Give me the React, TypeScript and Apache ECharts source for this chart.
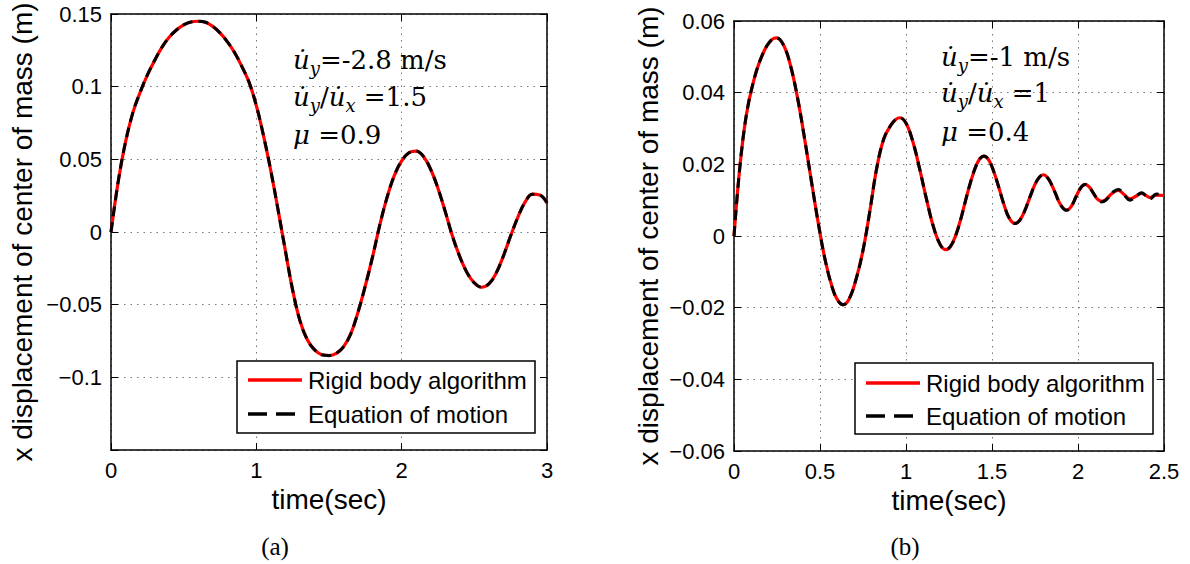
import React, { useEffect, useRef } from "react";
import * as echarts from "echarts";

const SANS = "'Liberation Sans', Arial, Helvetica, sans-serif";
const SERIF = "'Liberation Serif', 'Times New Roman', serif";
const NOTE_SERIF = "'DejaVu Serif', 'Liberation Serif', serif";

// ---------- Panel (a) data ----------
const leftTime = [
  0, 0.05, 0.1, 0.15, 0.2, 0.25, 0.3, 0.35, 0.4, 0.45, 0.5, 0.55, 0.6, 0.65, 0.7, 0.75, 0.8, 0.85, 0.9, 0.95,
  1.0, 1.05, 1.1, 1.15, 1.2, 1.25, 1.3, 1.35, 1.4, 1.45, 1.5, 1.55, 1.6, 1.65, 1.7, 1.75, 1.8, 1.85, 1.9, 1.95,
  2.0, 2.05, 2.1, 2.15, 2.2, 2.25, 2.3, 2.35, 2.4, 2.45, 2.5, 2.55, 2.6, 2.65, 2.7, 2.75, 2.8, 2.85, 2.9, 2.95, 3.0,
];
const leftEom = [
  0, 0.035, 0.062, 0.082, 0.096, 0.108, 0.118, 0.127, 0.134, 0.139, 0.1425, 0.1445, 0.145, 0.1443, 0.1415, 0.137,
  0.131, 0.1235, 0.114, 0.103, 0.087, 0.066, 0.042, 0.015, -0.013, -0.04, -0.061, -0.074, -0.081, -0.0845, -0.085,
  -0.0835, -0.079, -0.07, -0.055, -0.037, -0.017, 0.005, 0.024, 0.039, 0.049, 0.0545, 0.0557, 0.052, 0.043, 0.03,
  0.014, -0.003, -0.017, -0.028, -0.035, -0.038, -0.0357, -0.0283, -0.0165, -0.0026, 0.0103, 0.0207, 0.026, 0.0255,
  0.02,
];
const leftRigid = leftEom.slice();

// ---------- Panel (b) data ----------
const rightTime = [
  0, 0.02, 0.04, 0.06, 0.08, 0.1, 0.13, 0.16, 0.19, 0.22, 0.248,
  0.29, 0.33, 0.37, 0.41, 0.45, 0.49, 0.53, 0.57, 0.6, 0.634,
  0.67, 0.71, 0.75, 0.79, 0.83, 0.87, 0.91, 0.94, 0.965,
  1.0, 1.04, 1.08, 1.12, 1.16, 1.2, 1.233,
  1.26, 1.29, 1.32, 1.35, 1.38, 1.41, 1.43, 1.453,
  1.48, 1.51, 1.54, 1.57, 1.6, 1.634,
  1.66, 1.69, 1.72, 1.75, 1.775, 1.798,
  1.83, 1.865, 1.9, 1.934,
  1.96, 1.99, 2.015, 2.041,
  2.065, 2.09, 2.115, 2.138,
  2.16, 2.185, 2.21, 2.235,
  2.268, 2.302,
  2.336, 2.37,
  2.395, 2.419,
  2.455, 2.5,
];
const rightEom = [
  0, 0.012, 0.022, 0.03, 0.036, 0.0405, 0.046, 0.05, 0.053, 0.0548, 0.0553,
  0.0531, 0.0473, 0.0384, 0.0273, 0.0153, 0.0036, -0.0067, -0.0142, -0.0177, -0.0192,
  -0.0175, -0.012, -0.004, 0.007, 0.019, 0.027, 0.0308, 0.0325, 0.033,
  0.0315, 0.0263, 0.0186, 0.0101, 0.0025, -0.0025, -0.0038,
  -0.0028, 0.0003, 0.005, 0.0106, 0.0158, 0.0199, 0.0216, 0.0223,
  0.0213, 0.018, 0.0135, 0.0087, 0.005, 0.0035,
  0.0043, 0.007, 0.0108, 0.0144, 0.0164, 0.0171,
  0.0158, 0.0123, 0.0086, 0.0072,
  0.0082, 0.0111, 0.0134, 0.0144,
  0.0137, 0.0119, 0.0102, 0.0095,
  0.0099, 0.0112, 0.0125, 0.013,
  0.0115, 0.01,
  0.011, 0.0121,
  0.0112, 0.0104,
  0.0117, 0.0114,
];
const rightRigid = [
  0, 0.012, 0.022, 0.03, 0.036, 0.0405, 0.046, 0.05, 0.053, 0.0548, 0.0553,
  0.0531, 0.0473, 0.0384, 0.0273, 0.0153, 0.0036, -0.0067, -0.0142, -0.0177, -0.0192,
  -0.0175, -0.012, -0.004, 0.007, 0.019, 0.027, 0.0308, 0.0325, 0.033,
  0.0315, 0.0263, 0.0186, 0.0101, 0.0025, -0.0025, -0.0038,
  -0.0028, 0.0003, 0.005, 0.0106, 0.0158, 0.0199, 0.0216, 0.0223,
  0.0213, 0.018, 0.0135, 0.0087, 0.005, 0.0035,
  0.0043, 0.007, 0.0108, 0.0144, 0.0164, 0.0171,
  0.0158, 0.0123, 0.0086, 0.0072,
  0.0082, 0.0111, 0.0134, 0.0144,
  0.0137, 0.0119, 0.0102, 0.0097,
  0.0101, 0.0113, 0.0123, 0.0127,
  0.0116, 0.0104,
  0.0111, 0.0119,
  0.0113, 0.0107,
  0.0114, 0.0113,
];

const seriesNames = ["Rigid body algorithm", "Equation of motion"];
const xName = "time(sec)";
const yName = "x displacement of center of mass (m)";
const leftAxis = { xMax: 3, xInterval: 1, yMin: -0.15, yMax: 0.15, yInterval: 0.05 };
const rightAxis = { xMax: 2.5, xInterval: 0.5, yMin: -0.06, yMax: 0.06, yInterval: 0.02 };
const captions = ["(a)", "(b)"];
const leftNotes = ["{i|u\u0307}{s|y}{r|=-2.8 m/s}", "{i|u\u0307}{s|y}{r|/}{i|u\u0307}{s|x}{r| =1.5}", "{i|\u03bc}{r| =0.9}"];
const rightNotes = ["{i|u\u0307}{s|y}{r|=-1 m/s}", "{i|u\u0307}{s|y}{r|/}{i|u\u0307}{s|x}{r| =1}", "{i|\u03bc}{r| =0.4}"];

const pairs = (t: number[], v: number[]) => t.map((x, i) => [x, v[i]]);

const fmtY = (hideMin: number | null) => (v: number) => {
  if (hideMin !== null && Math.abs(v - hideMin) < 1e-9) return "";
  const s = String(Math.round(v * 10000) / 10000);
  return s.replace("-", "\u2212");
};

const RICH: any = {
  i: { fontFamily: NOTE_SERIF, fontStyle: "italic", fontSize: 26, lineHeight: 34, fill: "#000", color: "#000" },
  s: { fontFamily: NOTE_SERIF, fontStyle: "italic", fontSize: 18, lineHeight: 18, verticalAlign: "bottom", fill: "#000", color: "#000" },
  r: { fontFamily: NOTE_SERIF, fontSize: 26, lineHeight: 34, fill: "#000", color: "#000" },
};

function xAxes(gridIndex: number, max: number, interval: number, gap: number) {
  return [
    {
      gridIndex, type: "value", min: 0, max, interval, position: "bottom",
      axisLine: { show: true, onZero: false, lineStyle: { color: "#000", width: 1.5 } },
      axisTick: { show: true, inside: true, length: 7, lineStyle: { color: "#000", width: 1 } },
      axisLabel: { color: "#000", fontFamily: SANS, fontSize: 22, margin: 9 },
      splitLine: { show: true, lineStyle: { color: "#777", type: [1.5, 5], width: 1 } },
      name: xName, nameLocation: "middle", nameGap: gap,
      nameTextStyle: { color: "#000", fontFamily: SANS, fontSize: 28 },
    },
    {
      gridIndex, type: "value", min: 0, max, interval, position: "top",
      axisLine: { show: true, onZero: false, lineStyle: { color: "#000", width: 1.5 } },
      axisTick: { show: true, inside: true, length: 7, lineStyle: { color: "#000", width: 1 } },
      axisLabel: { show: false },
      splitLine: { show: false },
    },
  ];
}

function yAxes(gridIndex: number, min: number, max: number, interval: number, gap: number, hideMin: number | null) {
  return [
    {
      gridIndex, type: "value", min, max, interval, position: "left",
      axisLine: { show: true, onZero: false, lineStyle: { color: "#000", width: 1.5 } },
      axisTick: { show: true, inside: true, length: 7, lineStyle: { color: "#000", width: 1 } },
      axisLabel: { color: "#000", fontFamily: SANS, fontSize: 22, margin: 9, formatter: fmtY(hideMin) },
      splitLine: { show: true, lineStyle: { color: "#777", type: [1.5, 5], width: 1 } },
      name: yName, nameLocation: "middle", nameGap: gap,
      nameTextStyle: { color: "#000", fontFamily: SANS, fontSize: 28 },
    },
    {
      gridIndex, type: "value", min, max, interval, position: "right",
      axisLine: { show: true, onZero: false, lineStyle: { color: "#000", width: 1.5 } },
      axisTick: { show: true, inside: true, length: 7, lineStyle: { color: "#000", width: 1 } },
      axisLabel: { show: false },
      splitLine: { show: false },
    },
  ];
}

function lineSeries(name: string, data: number[][], axisIdx: number, dashed: boolean) {
  return {
    type: "line", name, data, xAxisIndex: axisIdx, yAxisIndex: axisIdx,
    symbol: "none", smooth: 0.4, silent: true,
    lineStyle: dashed ? { color: "#000", width: 3, type: [10, 6] } : { color: "#ff0000", width: 3.2, type: "solid" },
    itemStyle: { color: dashed ? "#000" : "#ff0000" },
    z: dashed ? 3 : 2,
  };
}

// Legend drawn as a framed box with line samples and real text labels
function legendBox(x: number, y: number, w: number, h: number, row1: number, row2: number) {
  return [
    { type: "rect", z: 5, shape: { x, y, width: w, height: h }, style: { fill: "#fff", stroke: "#000", lineWidth: 1.5 } },
    { type: "line", z: 6, shape: { x1: x + 11, y1: row1, x2: x + 65, y2: row1 }, style: { stroke: "#ff0000", lineWidth: 3.5 } },
    { type: "line", z: 6, shape: { x1: x + 11, y1: row2, x2: x + 65, y2: row2 }, style: { stroke: "#000", lineWidth: 3.5, lineDash: [19, 9] } },
    { type: "text", z: 6, x: x + 71, y: row1, style: { text: seriesNames[0], fontFamily: SANS, fontSize: 24, fill: "#000", verticalAlign: "middle" } },
    { type: "text", z: 6, x: x + 71, y: row2, style: { text: seriesNames[1], fontFamily: SANS, fontSize: 24, fill: "#000", verticalAlign: "middle" } },
  ];
}

function notes(x: number, ys: number[], lines: string[]) {
  return lines.map((t, i) => ({
    type: "text", x, y: ys[i], z: 7,
    style: { text: t, rich: RICH, verticalAlign: "middle", align: "left", fill: "#000" },
  }));
}

const option: any = {
  animation: false,
  backgroundColor: "#fff",
  grid: [
    { left: 111, top: 14, width: 436, height: 436 },
    { left: 734, top: 21, width: 430, height: 430 },
  ],
  xAxis: [...xAxes(0, leftAxis.xMax, leftAxis.xInterval, 34), ...xAxes(1, rightAxis.xMax, rightAxis.xInterval, 34)],
  yAxis: [
    ...yAxes(0, leftAxis.yMin, leftAxis.yMax, leftAxis.yInterval, 75, leftAxis.yMin),
    ...yAxes(1, rightAxis.yMin, rightAxis.yMax, rightAxis.yInterval, 72, null),
  ],
  series: [
    lineSeries(seriesNames[0], pairs(leftTime, leftRigid), 0, false),
    lineSeries(seriesNames[1], pairs(leftTime, leftEom), 0, true),
    lineSeries(seriesNames[0], pairs(rightTime, rightRigid), 2, false),
    lineSeries(seriesNames[1], pairs(rightTime, rightEom), 2, true),
  ],
  graphic: [
    ...legendBox(237, 361, 298, 72, 380, 414),
    ...legendBox(855, 363, 298, 71, 383, 416),
    ...notes(293, [60, 97, 135], leftNotes),
    ...notes(941, [57, 93, 132], rightNotes),
    { type: "text", x: 275, y: 546, z: 7, style: { text: captions[0], fontFamily: SERIF, fontSize: 25, fill: "#000", align: "center", verticalAlign: "middle" } },
    { type: "text", x: 905, y: 546, z: 7, style: { text: captions[1], fontFamily: SERIF, fontSize: 25, fill: "#000", align: "center", verticalAlign: "middle" } },
  ],
};

export default function App() {
  const ref = useRef<HTMLDivElement>(null);
  useEffect(() => {
    if (!ref.current) return;
    const chart = echarts.init(ref.current, null, { renderer: "svg" });
    chart.setOption(option);
    return () => chart.dispose();
  }, []);
  return (
    <div
      ref={ref}
      style={{ position: "fixed", left: 0, top: 0, width: 1190, height: 564, background: "#fff" }}
    />
  );
}
